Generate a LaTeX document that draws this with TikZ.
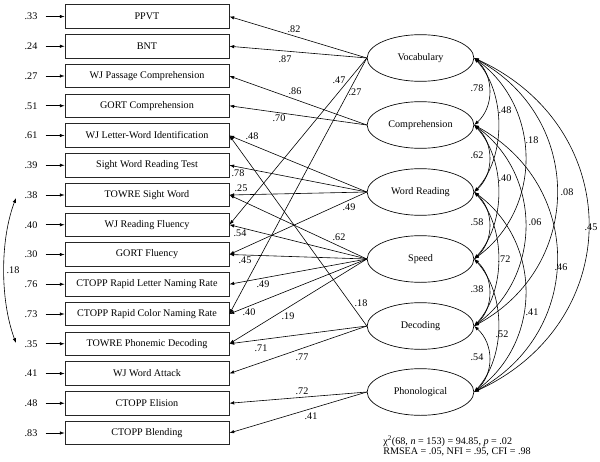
\documentclass[tikz,border=0pt]{standalone}
\usepackage{fontspec}
\setmainfont{Liberation Serif}
\usetikzlibrary{arrows.meta,shapes.geometric}
\begin{document}
\begin{tikzpicture}[x=0.75pt,y=-0.75pt,
  font=\fontsize{7.6}{9}\selectfont,
  obs/.style={draw=black!85, line width=0.6pt, minimum width=123pt, minimum height=17.6pt, inner sep=0pt},
  lat/.style={draw, ellipse, line width=0.5pt, minimum width=80pt, minimum height=35pt, inner sep=0pt},
  load/.style={-{Latex[length=3.6pt,width=2.6pt]}, line width=0.45pt},
  corr/.style={{Latex[length=3.6pt,width=2.6pt]}-{Latex[length=3.6pt,width=2.6pt]}, line width=0.45pt},
  lab/.style={inner sep=0pt}]
\useasboundingbox (0,0) rectangle (600,461);

% observed indicators
\foreach \i/\t/\r in {1/PPVT/.33, 2/BNT/.24, 3/WJ Passage Comprehension/.27, 4/GORT Comprehension/.51,
  5/WJ Letter-Word Identification/.61, 6/Sight Word Reading Test/.39, 7/TOWRE Sight Word/.38,
  8/WJ Reading Fluency/.40, 9/GORT Fluency/.30, 10/CTOPP Rapid Letter Naming Rate/.76,
  11/CTOPP Rapid Color Naming Rate/.73, 12/TOWRE Phonemic Decoding/.35, 13/WJ Word Attack/.41,
  14/CTOPP Elision/.48, 15/CTOPP Blending/.83}{
  \node[obs] (b\i) at (147,{16.5+29.75*(\i-1)}) {\t};
  \node[lab] (r\i) at (31,{16.5+29.75*(\i-1)}) {\r};
  \draw[load] ([xshift=6pt]r\i.east) -- (b\i.west);
}

% latent factors
\node[lat] (voc)   at (420.5,58)  {Vocabulary};
\node[lat] (comp)  at (420.5,125) {Comprehension};
\node[lat] (wr)    at (420.5,192) {Word Reading};
\node[lat] (speed) at (420.5,259) {Speed};
\node[lat] (dec)   at (420.5,326) {Decoding};
\node[lat] (phon)  at (420.5,392) {Phonological};

% loadings
\foreach \f/\b/\v/\x/\y in {voc/1/.82/294/29, voc/2/.87/285/59, voc/8/.47/339/80, voc/11/.27/355/92,
  comp/3/.86/295/91, comp/4/.70/279/118,
  wr/5/.48/252/136, wr/6/.78/238/173, wr/7/.25/241/188, wr/9/.49/349/207,
  speed/7/.62/339/237, speed/8/.54/240/233, speed/9/.45/245/260, speed/10/.49/263/284,
  speed/11/.40/249/312, speed/12/.19/288/316,
  dec/5/.18/361/303, dec/12/.71/261/348, dec/13/.77/302/357,
  phon/14/.72/302/391, phon/15/.41/311/416}{
  \draw[load] (\f.west) -- (b\b.east);
  \node[lab] at (\x,\y) {\v};
}

% factor correlations
\foreach \a/\b/\c/\s/\v/\x/\y in {
  voc/comp/20/18/.78/477/88, comp/wr/20/18/.62/477/155, wr/speed/20/18/.58/477/222,
  speed/dec/20/18/.38/477/289, dec/phon/20/18/.54/477/357,
  voc/wr/32/35/.48/505/110, comp/speed/32/35/.40/505/178, wr/dec/32/35/.72/504/259,
  speed/phon/32/35/.52/502/334,
  voc/speed/68/50/.18/532/140, comp/dec/68/50/.06/535/222, wr/phon/68/50/.41/532/312,
  voc/dec/110/60/.08/567/192, comp/phon/110/60/.46/561/267,
  voc/phon/152/70/.45/591/227}{
  \draw[corr] (\a.east) .. controls +(\c,\s) and +(\c,-\s) .. (\b.east);
  \node[lab] at (\x,\y) {\v};
}

% correlated residuals
\coordinate (ctop) at (16,198);
\coordinate (cbot) at (16,343);
\draw[corr] (ctop) .. controls (0,240) and (0,300) .. (cbot);
\node[lab] at (13,270) {.18};

% fit statistics
\node[lab, anchor=west] (fit1) at (383,441) {χ\textsuperscript{2}(68, \textit{n} = 153) = 94.85, \textit{p} = .02};
\node[lab, anchor=west] (fit2) at (383,452) {RMSEA = .05, NFI = .95, CFI = .98};
\end{tikzpicture}
\end{document}
